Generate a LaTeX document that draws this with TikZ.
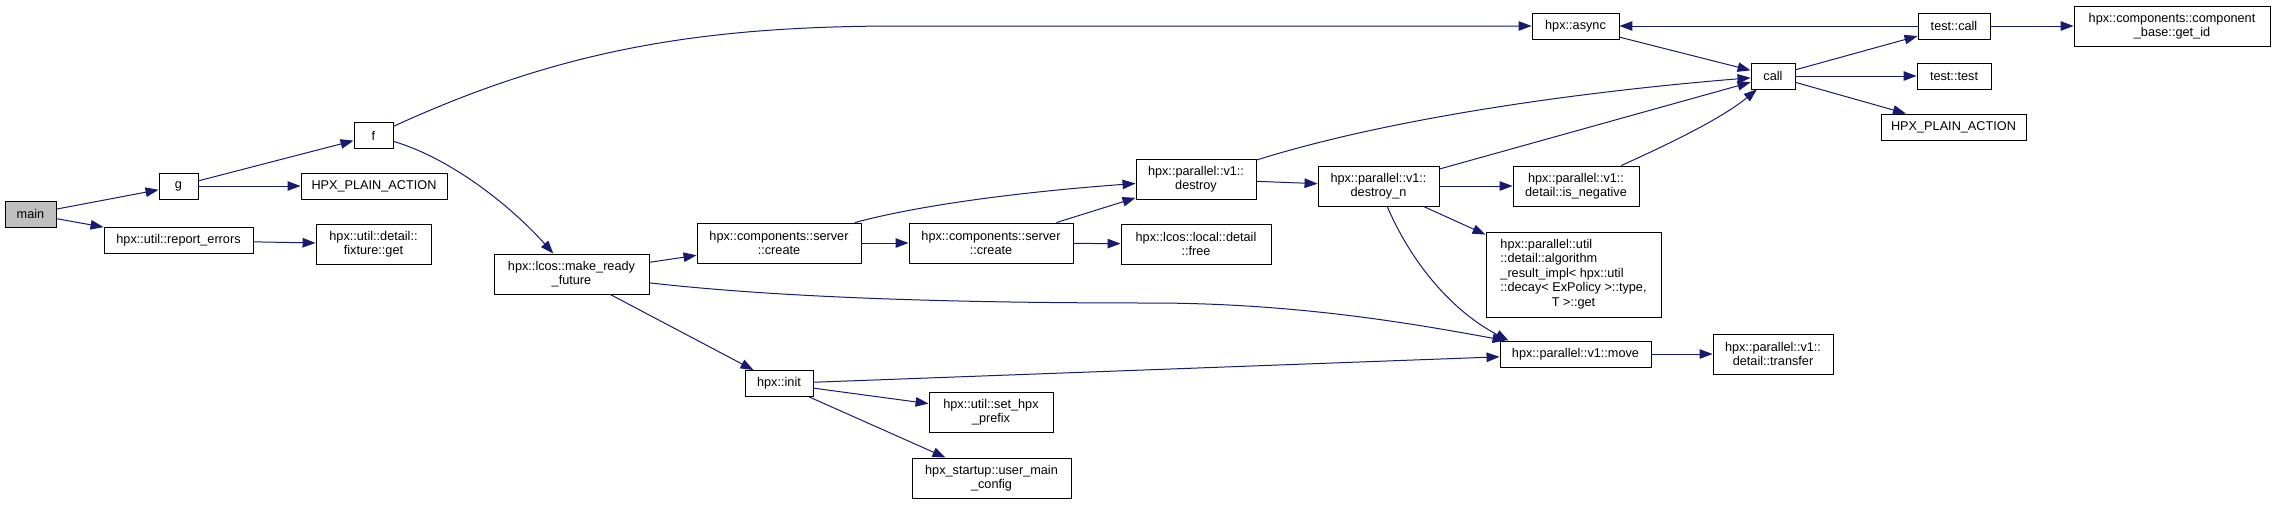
\documentclass[tikz,border=0pt]{standalone}
\usepackage{fontspec}
\setmainfont{Liberation Sans}
\usetikzlibrary{arrows.meta}
\definecolor{edgeblue}{HTML}{191970}
\definecolor{mainfill}{HTML}{BFBFBF}
\begin{document}
\begin{tikzpicture}[x=1pt,y=-1pt,
  box/.style={draw=black, line width=0.9pt, fill=white, inner sep=1pt, align=center,
    font=\fontsize{12.7}{14.5}\selectfont},
  edge/.style={draw=edgeblue, line width=1pt, -{Triangle[length=13pt,width=9.5pt]}}]
\useasboundingbox[fill=white] (0,0) rectangle (2275,504);
% nodes
\node[box, fill=mainfill, minimum width=51pt, minimum height=26pt] (main) at (30.5,214) {main};
\node[box, minimum width=39pt, minimum height=26pt] (g) at (178.5,186) {g};
\node[box, minimum width=146pt, minimum height=26pt] (hpa1) at (374,186) {HPX\_PLAIN\_ACTION};
\node[box, minimum width=149pt, minimum height=26pt] (report) at (178.5,240.5) {hpx::util::report\_errors};
\node[box, minimum width=115pt, minimum height=40pt] (fixture) at (373.5,244) {hpx::util::detail::\\fixture::get};
\node[box, minimum width=39pt, minimum height=26pt] (f) at (373.5,135.5) {f};
\node[box, minimum width=155pt, minimum height=40pt] (mrf) at (571.5,274) {hpx::lcos::make\_ready\\\_future};
\node[box, minimum width=164pt, minimum height=40pt] (create1) at (779,243) {hpx::components::server\\::create};
\node[box, minimum width=68pt, minimum height=26pt] (init) at (779,383.5) {hpx::init};
\node[box, minimum width=164pt, minimum height=40pt] (create2) at (991,243) {hpx::components::server\\::create};
\node[box, minimum width=150pt, minimum height=40pt] (free) at (1196,244) {hpx::lcos::local::detail\\::free};
\node[box, minimum width=124pt, minimum height=40pt] (sethpx) at (991,412) {hpx::util::set\_hpx\\\_prefix};
\node[box, minimum width=159pt, minimum height=40pt] (usermain) at (991.5,478) {hpx\_startup::user\_main\\\_config};
\node[box, minimum width=120pt, minimum height=40pt] (destroy) at (1196,179) {hpx::parallel::v1::\\destroy};
\node[box, minimum width=121pt, minimum height=40pt] (destroyn) at (1378.5,186) {hpx::parallel::v1::\\destroy\_n};
\node[box, minimum width=126pt, minimum height=40pt] (isneg) at (1576,186) {hpx::parallel::v1::\\detail::is\_negative};
\node[box, minimum width=175pt, minimum height=85pt] (algo) at (1573.5,274.5)
  {\begin{tabular}{@{}l@{}}hpx::parallel::util\\ ::detail::algorithm\\ \_result\_impl< hpx::util\\ ::decay< ExPolicy >::type,\\ \multicolumn{1}{@{}c@{}}{T >::get}\end{tabular}};
\node[box, minimum width=151pt, minimum height=26pt] (move) at (1575.5,354) {hpx::parallel::v1::move};
\node[box, minimum width=120pt, minimum height=40pt] (transfer) at (1773,354) {hpx::parallel::v1::\\detail::transfer};
\node[box, minimum width=87pt, minimum height=26pt] (async) at (1575.5,26) {hpx::async};
\node[box, minimum width=44pt, minimum height=26pt] (call) at (1773,76) {call};
\node[box, minimum width=72pt, minimum height=26pt] (testcall) at (1954,26) {test::call};
\node[box, minimum width=196pt, minimum height=40pt] (getid) at (2172,26) {hpx::components::component\\\_base::get\_id};
\node[box, minimum width=74pt, minimum height=26pt] (testtest) at (1954,76) {test::test};
\node[box, minimum width=145pt, minimum height=26pt] (hpa2) at (1953.5,127) {HPX\_PLAIN\_ACTION};
% edges
\draw[edge] (main) -- (g);
\draw[edge] (main) -- (report);
\draw[edge] (g) -- (f);
\draw[edge] (g) -- (hpa1);
\draw[edge] (report) -- (fixture);
\draw[edge] (f) .. controls (560,50) and (700,26) .. (900,26) -- (async);
\draw[edge] (f) .. controls (450,158) and (510,205) .. (mrf);
\draw[edge] (mrf) -- (create1);
\draw[edge] (mrf) .. controls (800,300) and (1000,303) .. (1150,303) .. controls (1300,303) and (1420,325) .. ([xshift=6pt]move.north west);
\draw[edge] (mrf) -- (init);
\draw[edge] (init) -- (move);
\draw[edge] (init) -- (sethpx);
\draw[edge] (init) -- (usermain);
\draw[edge] (create1) .. controls (920,205) and (1020,192) .. (destroy);
\draw[edge] (create1) -- (create2);
\draw[edge] (create2) -- (destroy);
\draw[edge] (create2) -- (free);
\draw[edge] (destroy) -- (destroyn);
\draw[edge] (destroy) .. controls (1400,115) and (1600,90) .. (call);
\draw[edge] (destroyn) -- (call);
\draw[edge] (destroyn) -- (isneg);
\draw[edge] (destroyn) -- (algo);
\draw[edge] (destroyn) .. controls (1410,260) and (1450,310) .. ([xshift=9pt]move.north west);
\draw[edge] (isneg) .. controls (1660,148) and (1720,120) .. (call);
\draw[edge] (move) -- (transfer);
\draw[edge] (async) -- (call);
\draw[edge] (testcall) -- (async);
\draw[edge] (testcall) -- (getid);
\draw[edge] (call) -- (testcall);
\draw[edge] (call) -- (testtest);
\draw[edge] (call) -- (hpa2);
\end{tikzpicture}
\end{document}
